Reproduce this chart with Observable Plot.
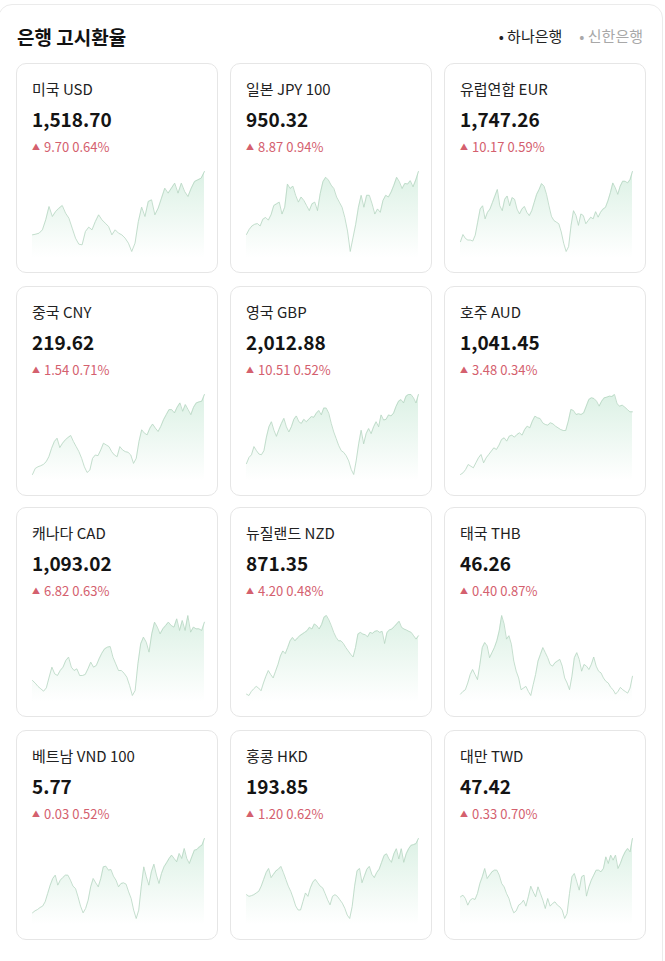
<!DOCTYPE html>
<html><head><meta charset="utf-8">
<script src="https://cdn.jsdelivr.net/npm/d3@7"></script>
<script src="https://cdn.jsdelivr.net/npm/@observablehq/plot@0.6"></script>
<style>
html,body{margin:0;padding:0;background:#fff;}
body{width:665px;height:961px;position:relative;overflow:hidden;font-family:"Noto Sans CJK KR","Noto Sans",sans-serif;color:#111;}
.frame{position:absolute;left:-2px;top:4px;width:663px;height:1000px;border:1px solid #ebebeb;border-radius:14px;}
.title{position:absolute;left:17px;top:25px;font-size:19px;font-weight:700;line-height:24px;color:#111;}
.legend{position:absolute;right:22px;top:26px;display:flex;gap:17px;font-size:15px;line-height:20px;}
.legend span.on{color:#222;}
.legend span.off{color:#a8a8a8;}
.card{position:absolute;width:200px;height:208px;border:1px solid #e6e6e6;border-radius:10px;background:#fff;}
.name{position:absolute;left:15px;top:15px;font-size:15px;line-height:20px;color:#222;white-space:nowrap;}
.val{position:absolute;left:15px;top:43px;font-size:19px;font-weight:700;line-height:24px;color:#141414;}
.chg{position:absolute;left:15px;top:74px;font-size:13px;line-height:18px;color:#d4606e;white-space:nowrap;}
.chg .tri{font-size:8px;margin-right:4px;position:relative;top:-2px;}
.spark{position:absolute;left:15px;top:100px;}
</style>
</head><body>
<div class="frame"></div>
<div class="title">은행 고시환율</div>
<div class="legend"><span class="on">• 하나은행</span><span class="off">• 신한은행</span></div>
<div id="grid"></div>
<script>
const names = ["미국 USD","일본 JPY 100","유럽연합 EUR","중국 CNY","영국 GBP","호주 AUD","캐나다 CAD","뉴질랜드 NZD","태국 THB","베트남 VND 100","홍콩 HKD","대만 TWD"];
const rates = [1518.70, 950.32, 1747.26, 219.62, 2012.88, 1041.45, 1093.02, 871.35, 46.26, 5.77, 193.85, 47.42];
const changes = [9.70, 8.87, 10.17, 1.54, 10.51, 3.48, 6.82, 4.20, 0.40, 0.03, 1.20, 0.33];
const pcts = [0.64, 0.94, 0.59, 0.71, 0.52, 0.34, 0.63, 0.48, 0.87, 0.52, 0.62, 0.70];

const usd = [1480.7,1481.1,1481.7,1483.7,1489.7,1497.7,1491.7,1494.7,1496.7,1498.3,1493.7,1490.7,1484.7,1478.7,1475.1,1474.7,1482.7,1485.3,1483.7,1488.7,1492.7,1489.7,1487.7,1485.7,1480.7,1483.7,1481.7,1480.7,1478.7,1475.7,1470.7,1475.7,1488.7,1497.3,1491.7,1500.7,1501.7,1492.7,1496.7,1502.7,1508.7,1505.7,1508.7,1511.7,1505.7,1511.7,1506.7,1503.7,1508.7,1512.7,1513.7,1514.7,1518.7];
const jpy = [931.82,933.32,934.32,934.82,935.02,934.32,936.32,936.82,936.02,937.62,940.32,940.82,941.32,937.82,939.82,946.62,945.32,946.02,943.32,941.32,942.82,941.82,940.32,938.82,940.82,941.32,938.82,943.82,947.32,948.62,947.82,946.32,945.32,942.82,941.32,939.82,936.82,932.82,926.82,930.82,934.82,939.82,943.32,939.82,943.32,943.32,940.82,937.82,939.32,938.32,941.82,943.32,942.82,944.32,946.32,948.62,947.32,945.32,946.82,946.62,947.62,945.82,947.82,950.32];
const eur = [1704.26,1708.66,1706.26,1705.26,1705.26,1704.66,1708.26,1716.26,1724.26,1726.26,1718.26,1722.26,1724.26,1728.26,1732.26,1736.26,1726.26,1723.26,1730.26,1732.26,1726.26,1731.26,1730.26,1724.26,1721.26,1724.26,1725.86,1722.26,1720.26,1723.26,1728.26,1733.26,1736.26,1739.86,1738.26,1733.26,1726.26,1719.86,1717.26,1716.26,1715.26,1710.26,1703.26,1698.26,1701.26,1714.26,1723.26,1720.26,1714.26,1721.26,1720.26,1715.26,1717.26,1719.26,1718.26,1722.66,1719.26,1722.26,1724.26,1725.26,1729.26,1734.26,1740.26,1737.26,1733.26,1738.26,1741.26,1741.26,1740.26,1742.26,1747.26];
const cny = [212.48,213.02,213.17,213.26,213.38,213.62,214.07,214.82,215.42,215.72,214.88,215.27,215.57,215.78,215.96,215.42,214.97,214.52,213.92,213.17,212.66,212.87,213.92,214.22,214.16,214.67,215.27,215.12,214.97,214.52,214.22,214.07,214.97,214.67,214.52,214.46,214.22,213.47,213.92,215.42,216.47,216.17,216.02,216.62,216.98,216.62,216.32,216.77,217.37,217.82,218.27,218.27,217.97,218.48,218.87,218.12,218.72,218.27,217.82,218.48,218.87,218.96,219.02,219.62];
const gbp = [1962.13,1966.63,1968.63,1974.63,1971.63,1969.13,1968.63,1971.63,1981.63,1989.13,1992.88,1986.63,1982.13,1987.13,1991.63,1995.38,1989.13,1985.38,1989.13,1994.63,1997.13,1992.88,1991.63,1994.63,1992.88,1994.63,1996.63,1996.13,1999.13,2001.13,1997.88,2002.88,2002.88,1999.13,1991.63,1985.38,1980.38,1975.38,1971.63,1970.38,1967.88,1964.13,1957.88,1954.13,1964.13,1976.63,1986.63,1976.63,1984.13,1987.88,1984.13,1989.13,1992.88,1989.13,1997.88,1994.13,1994.63,1997.88,1997.13,1999.13,2004.13,2007.88,2009.13,2006.63,2011.63,2012.88,2012.88,2010.38,2006.63,2012.88];
const aud = [1003.85,1004.85,1006.85,1009.85,1008.85,1007.85,1010.85,1013.85,1015.85,1010.85,1013.85,1015.85,1017.85,1019.85,1018.85,1021.45,1024.85,1025.85,1023.85,1026.85,1027.45,1026.25,1027.85,1028.85,1027.45,1030.85,1032.85,1031.85,1035.85,1038.85,1037.85,1037.45,1034.85,1033.85,1033.45,1034.85,1034.25,1032.85,1031.85,1030.85,1030.25,1030.25,1035.85,1042.85,1042.25,1039.85,1040.25,1039.85,1040.85,1044.85,1048.85,1049.85,1049.45,1047.85,1044.85,1047.85,1049.85,1050.25,1050.85,1050.65,1051.85,1046.25,1044.85,1045.45,1044.25,1042.85,1041.45,1041.45];
const cad = [1066.77,1065.57,1064.07,1063.02,1061.97,1063.47,1068.27,1072.77,1069.77,1069.02,1071.27,1072.77,1075.77,1077.27,1072.77,1071.27,1072.02,1069.02,1069.02,1069.47,1072.02,1075.02,1072.77,1073.52,1076.52,1079.07,1081.02,1081.77,1082.07,1077.27,1074.27,1071.27,1071.27,1070.07,1068.27,1064.52,1060.02,1062.27,1074.27,1083.27,1086.27,1084.02,1079.52,1087.77,1093.02,1090.77,1087.77,1090.02,1091.52,1093.02,1091.52,1090.77,1094.52,1089.27,1093.77,1089.27,1096.02,1088.52,1090.77,1090.02,1090.02,1089.27,1093.02];
const nzd = [854.05,853.65,854.85,855.65,856.35,855.85,855.05,857.35,859.35,861.05,859.85,858.85,860.85,862.85,865.35,866.85,866.05,867.85,869.85,870.85,869.85,870.65,871.35,871.85,872.35,872.85,873.85,873.35,874.85,874.35,873.35,874.65,876.85,877.35,876.05,874.35,872.35,870.85,869.85,869.85,869.05,867.85,866.85,865.85,865.05,867.85,871.85,872.35,871.85,871.65,871.05,872.35,872.05,872.65,872.85,872.35,872.65,869.05,872.35,873.05,873.35,874.05,874.85,875.65,873.85,873.35,873.05,872.65,872.35,871.35,870.35,871.35];
const thb = [45.995,46.035,46.06,46.16,46.285,46.36,46.285,46.21,46.435,46.685,46.76,46.71,46.535,46.61,46.685,46.785,46.935,47.16,47.035,46.81,46.86,46.735,46.485,46.335,46.235,46.06,46.085,46.11,46.035,45.975,46.135,46.285,46.485,46.585,46.685,46.61,46.535,46.435,46.41,46.46,46.485,46.51,46.41,46.235,46.16,46.06,46.26,46.535,46.61,46.51,46.335,46.435,46.41,46.36,46.435,46.545,46.41,46.335,46.31,46.235,46.185,46.16,46.095,46.06,45.995,46.035,46.095,46.06,46.035,46.01,46.085,46.26];
const vnd = [5.547,5.553,5.557,5.563,5.567,5.58,5.605,5.63,5.65,5.66,5.63,5.645,5.653,5.66,5.66,5.645,5.627,5.62,5.595,5.567,5.547,5.56,5.585,5.625,5.65,5.637,5.625,5.65,5.685,5.687,5.675,5.677,5.657,5.645,5.625,5.635,5.637,5.633,5.61,5.59,5.555,5.53,5.555,5.625,5.685,5.655,5.63,5.67,5.693,5.66,5.635,5.665,5.685,5.697,5.71,5.72,5.71,5.70,5.725,5.71,5.74,5.71,5.695,5.715,5.735,5.737,5.745,5.75,5.77];
const hkd = [190.55,190.45,190.49,190.55,190.65,190.75,191.05,191.45,191.85,192.09,191.55,191.75,191.95,192.05,192.21,191.85,191.45,191.05,190.75,190.35,189.89,189.65,189.65,190.15,190.65,190.45,190.95,191.29,191.45,191.25,191.05,190.95,190.61,190.25,189.95,190.45,190.55,190.45,190.25,190.05,189.75,189.35,189.15,189.85,191.05,191.95,192.09,191.25,191.65,192.05,192.21,191.75,191.55,191.85,192.05,192.45,192.85,192.95,192.65,192.45,192.95,193.25,192.65,193.25,192.45,192.95,193.25,193.45,193.49,193.55,193.85];
const twd = [46.545,46.57,46.52,46.42,46.495,46.52,46.505,46.595,46.745,46.845,46.97,46.82,46.87,46.92,46.945,46.945,46.87,46.745,46.695,46.595,46.52,46.395,46.305,46.335,46.42,46.445,46.495,46.405,46.545,46.705,46.62,46.545,46.695,46.595,46.495,46.37,46.52,46.405,46.445,46.47,46.42,46.395,46.345,46.22,46.295,46.595,46.845,46.895,46.77,46.645,46.845,46.87,46.555,46.695,46.795,46.87,46.945,46.945,46.92,46.97,47.145,47.045,47.17,47.095,47.17,46.97,47.045,47.145,47.22,47.27,47.22,47.42];

const series = [usd, jpy, eur, cny, gbp, aud, cad, nzd, thb, vnd, hkd, twd];

const colLeft = [16, 230, 444];
const rowTop = [63, 286, 507, 730];
const fmtRate = d3.format(",.2f");
const fmt2 = d3.format(".2f");
const grid = document.getElementById("grid");

names.forEach((name, i) => {
  const card = document.createElement("div");
  card.className = "card";
  card.style.left = colLeft[i % 3] + "px";
  card.style.top = rowTop[Math.floor(i / 3)] + "px";
  card.innerHTML = `<div class="name">${name}</div>
    <div class="val">${fmtRate(rates[i])}</div>
    <div class="chg"><span class="tri">▲</span>${fmt2(changes[i])} ${fmt2(pcts[i])}%</div>`;
  const vals = series[i];
  const lo = d3.min(vals), hi = d3.max(vals);
  const base = lo - (hi - lo) * 0.08;
  const svg = Plot.plot({
    width: 173,
    height: 95,
    marginLeft: 0,
    marginRight: 1,
    marginTop: 7,
    marginBottom: 8,
    x: {axis: null, domain: [0, vals.length - 1]},
    y: {axis: null, domain: [lo, hi]},
    style: {background: "transparent", overflow: "visible"},
    marks: [
      Plot.areaY(vals, {x: (d, j) => j, y1: () => base, y2: d => d, fill: `url(#sg${i})`}),
      Plot.lineY(vals, {x: (d, j) => j, y: d => d, stroke: "#b6d5c1", strokeWidth: 0.8})
    ]
  });
  d3.select(svg).insert("defs", ":first-child").html(
    `<linearGradient id="sg${i}" x1="0" y1="0" x2="0" y2="1">
      <stop offset="0" stop-color="#4fb97c" stop-opacity="0.2"/>
      <stop offset="0.6" stop-color="#4fb97c" stop-opacity="0.08"/>
      <stop offset="1" stop-color="#4fb97c" stop-opacity="0"/>
    </linearGradient>`);
  const wrap = document.createElement("div");
  wrap.className = "spark";
  wrap.appendChild(svg);
  card.appendChild(wrap);
  grid.appendChild(card);
});
</script>
</body></html>
